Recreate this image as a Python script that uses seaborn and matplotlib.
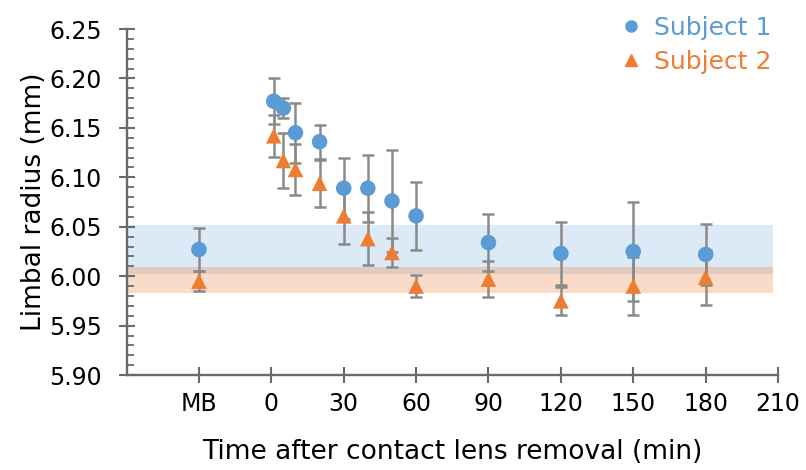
import pandas as pd
import matplotlib.pyplot as plt
import seaborn as sns
from matplotlib.lines import Line2D
from matplotlib.ticker import MultipleLocator

# Measurement times (min); -30 is the morning baseline "MB"
times = [-30, 1, 5, 10, 20, 30, 40, 50, 60, 90, 120, 150, 180]

subject1 = [6.027, 6.177, 6.170, 6.145, 6.136, 6.089, 6.089, 6.076, 6.061, 6.034, 6.023, 6.025, 6.022]
subject1_err = [0.022, 0.023, 0.010, 0.030, 0.017, 0.031, 0.034, 0.052, 0.034, 0.029, 0.032, 0.050, 0.031]

subject2 = [5.995, 6.142, 6.117, 6.108, 6.094, 6.061, 6.038, 6.024, 5.990, 5.997, 5.975, 5.990, 5.999]
subject2_err = [0.010, 0.021, 0.028, 0.026, 0.024, 0.028, 0.027, 0.015, 0.011, 0.018, 0.014, 0.029, 0.028]

# Baseline ranges shown as shaded bands
band_x = [-60, 208]
subject1_band = [6.002, 6.052]
subject2_band = [5.983, 6.009]

xtick_values = [-30, 0, 30, 60, 90, 120, 150, 180, 210]
xtick_labels = ["MB", "0", "30", "60", "90", "120", "150", "180", "210"]
ytick_values = [5.90, 5.95, 6.00, 6.05, 6.10, 6.15, 6.20, 6.25]

BLUE = "#5B9BD5"
ORANGE = "#ED7D31"
AXIS_GRAY = "#6a6a6a"
ERR_GRAY = "#8a8a8a"

df = pd.concat([
    pd.DataFrame({"time": times, "radius": subject1, "err": subject1_err, "subject": "Subject 1"}),
    pd.DataFrame({"time": times, "radius": subject2, "err": subject2_err, "subject": "Subject 2"}),
])

sns.set_style("ticks")
plt.rcParams["font.family"] = ["DejaVu Sans"]
plt.rcParams["text.color"] = "black"
plt.rcParams["axes.labelcolor"] = "black"

fig = plt.figure(figsize=(8.06, 4.70), dpi=100)
ax = fig.add_axes([0.157, 0.202, 0.8083, 0.7362])

# shaded baseline bands
ax.fill_between(band_x, subject1_band[0], subject1_band[1], color=BLUE, alpha=0.21, lw=0, zorder=0)
ax.fill_between(band_x, subject2_band[0], subject2_band[1], color=ORANGE, alpha=0.27, lw=0, zorder=0)

# error bars under the markers
for name, grp in df.groupby("subject"):
    ax.errorbar(grp["time"], grp["radius"], yerr=grp["err"], fmt="none",
                ecolor=ERR_GRAY, elinewidth=1.8, capsize=4.3, capthick=1.8, zorder=2)

sns.scatterplot(data=df, x="time", y="radius", hue="subject", style="subject",
                markers={"Subject 1": "o", "Subject 2": "^"},
                palette={"Subject 1": BLUE, "Subject 2": ORANGE},
                s=125, linewidth=0, legend=False, ax=ax, zorder=3)

ax.set_xlim(-60, 210)
ax.set_ylim(5.90, 6.25)
ax.set_xticks(xtick_values)
ax.set_xticklabels(xtick_labels)
ax.set_yticks(ytick_values)
ax.set_yticklabels([f"{v:.2f}" for v in ytick_values])
ax.yaxis.set_minor_locator(MultipleLocator(0.01))

sns.despine(ax=ax)
for side in ["left", "bottom"]:
    ax.spines[side].set_color(AXIS_GRAY)
    ax.spines[side].set_linewidth(1.7)

ax.tick_params(axis="both", which="major", direction="inout", length=12, width=1.5,
               color=AXIS_GRAY, labelsize=17, labelcolor="black")
ax.tick_params(axis="y", which="major", pad=12)
ax.tick_params(axis="x", which="major", pad=6)
ax.tick_params(axis="y", which="minor", direction="in", length=5, width=1.3, color=AXIS_GRAY)

ax.set_xlabel("Time after contact lens removal (min)", fontsize=19)
ax.set_ylabel("Limbal radius (mm)", fontsize=19)
ax.xaxis.set_label_coords(0.5, -0.185)
ax.yaxis.set_label_coords(-0.122, 0.5)

handles = [
    Line2D([], [], marker="o", linestyle="none", color=BLUE, markersize=8),
    Line2D([], [], marker="^", linestyle="none", color=ORANGE, markersize=8),
]
leg = ax.legend(handles, ["Subject 1", "Subject 2"], loc="upper left",
                bbox_to_anchor=(620.6 / 806, 0.967), bbox_transform=fig.transFigure,
                frameon=False, fontsize=18, handlelength=0.8, handletextpad=0.55,
                labelspacing=0.42, borderpad=0, borderaxespad=0)
for txt, col in zip(leg.get_texts(), [BLUE, ORANGE]):
    txt.set_color(col)

fig.savefig("out.png", dpi=100)
